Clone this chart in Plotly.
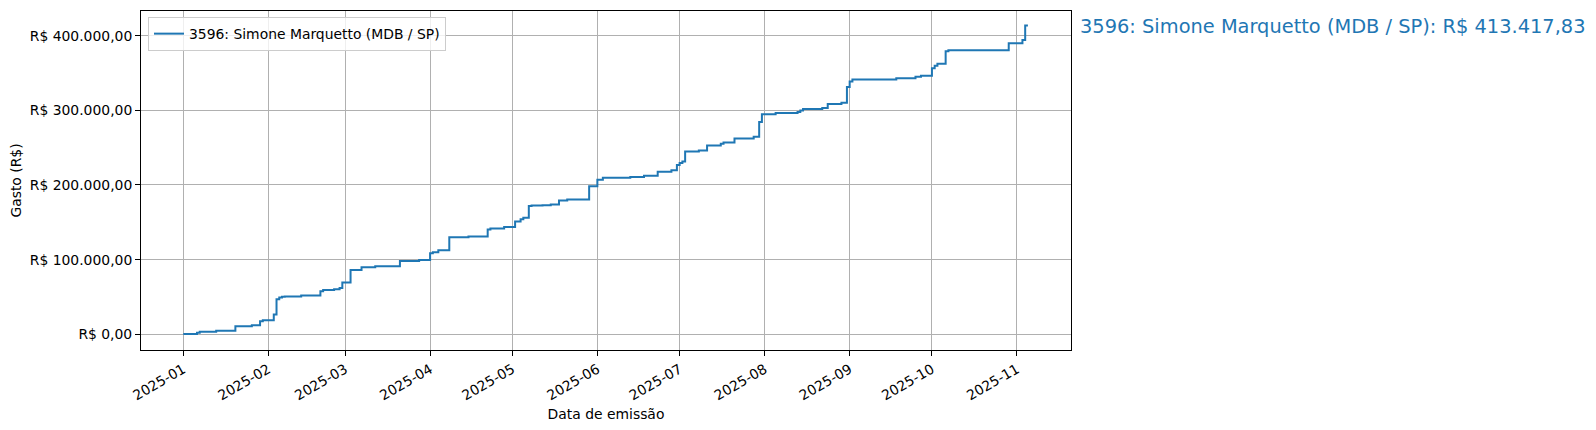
import plotly.graph_objects as go

# gasto acumulado por data de emissao
datas = [
    "2025-01-01", "2025-01-06", "2025-01-07", "2025-01-13", "2025-01-20", "2025-01-26", "2025-01-29", "2025-01-30",
    "2025-02-03", "2025-02-04", "2025-02-05", "2025-02-06", "2025-02-07", "2025-02-13", "2025-02-20", "2025-02-21",
    "2025-02-25", "2025-02-27", "2025-02-28",
    "2025-03-03", "2025-03-07", "2025-03-12", "2025-03-21", "2025-03-28",
    "2025-04-01", "2025-04-02", "2025-04-04", "2025-04-08", "2025-04-15", "2025-04-22", "2025-04-23", "2025-04-28",
    "2025-05-02", "2025-05-04", "2025-05-05", "2025-05-07", "2025-05-08", "2025-05-12", "2025-05-15", "2025-05-18",
    "2025-05-21", "2025-05-29",
    "2025-06-01", "2025-06-03", "2025-06-13", "2025-06-18", "2025-06-23", "2025-06-28", "2025-06-30",
    "2025-07-01", "2025-07-02", "2025-07-03", "2025-07-08", "2025-07-11", "2025-07-16", "2025-07-17", "2025-07-21",
    "2025-07-28", "2025-07-30", "2025-07-31",
    "2025-08-05", "2025-08-13", "2025-08-14", "2025-08-15", "2025-08-22", "2025-08-24", "2025-08-29", "2025-08-31",
    "2025-09-01", "2025-09-02", "2025-09-18", "2025-09-25", "2025-09-27",
    "2025-10-01", "2025-10-02", "2025-10-03", "2025-10-06", "2025-10-07", "2025-10-29",
    "2025-11-03", "2025-11-04", "2025-11-05",
]
gasto_acumulado = [
    450, 2200, 3600, 4900, 10800, 12100, 17500, 18800,
    26500, 47100, 49300, 50200, 50700, 52000, 57800, 59200, 60500, 61900, 69500,
    86100, 89700, 91000, 98200, 99600,
    108700, 110000, 112600, 130100, 131100, 140400, 141800, 143600,
    151100, 154200, 156000, 172000, 172400, 172900, 173800, 179100, 180400, 198200,
    207100, 209800, 210700, 212400, 217800, 219600, 226700,
    229300, 231600, 244900, 246200, 252900, 255100, 256900, 262200, 264500, 284400, 294700,
    296400, 297800, 299600, 301800, 303100, 308400, 310200, 331100,
    338700, 341300, 343100, 344900, 346200,
    356400, 359600, 362200, 379100, 380400, 389800,
    394200, 413417.83, 413417.83,
]
nome = "3596: Simone Marquetto (MDB / SP)"
total_txt = "R$ 413.417,83"

y_ticks = [0, 100000, 200000, 300000, 400000]
y_labels = ["R$ 0,00", "R$ 100.000,00", "R$ 200.000,00", "R$ 300.000,00", "R$ 400.000,00"]

azul = "#1f77b4"
fonte = "DejaVu Sans"
tam = 13.9

fig = go.Figure()

fig.add_trace(go.Scatter(
    x=datas,
    y=gasto_acumulado,
    mode="lines",
    line=dict(color=azul, width=2, shape="hv"),
    name=nome,
))

# total no lado direito
fig.add_annotation(
    x=1, y=0.955,
    xref="paper", yref="paper",
    xshift=7,
    xanchor="left", yanchor="middle",
    text=f"{nome}: {total_txt}",
    showarrow=False,
    font=dict(family=fonte, size=19.4, color=azul),
)

eixo = dict(
    showline=True, linecolor="black", linewidth=1, mirror=True,
    showgrid=True, gridcolor="#b0b0b0", gridwidth=1,
    ticks="outside", ticklen=5, tickcolor="black",
    tickfont=dict(family=fonte, size=tam, color="black"),
    zeroline=False,
)

fig.update_layout(
    width=1596, height=430,
    margin=dict(l=133, r=533, t=3, b=88),
    plot_bgcolor="white",
    paper_bgcolor="white",
    font=dict(family=fonte, size=tam, color="black"),
    showlegend=True,
    legend=dict(
        x=0.0075, y=0.982, xanchor="left", yanchor="top",
        bgcolor="rgba(255,255,255,0.8)",
        bordercolor="#cccccc", borderwidth=1,
        font=dict(family=fonte, size=tam),
    ),
    xaxis=dict(
        eixo,
        type="date",
        range=["2024-12-16 14:00", "2025-11-20 17:00"],
        tick0="2025-01-01", dtick="M1",
        tickformat="%Y-%m",
        tickangle=-30,
        title=dict(text="Data de emissão", font=dict(family=fonte, size=tam), standoff=6),
    ),
    yaxis=dict(
        eixo,
        range=[-21000, 433000],
        tickvals=y_ticks,
        ticktext=y_labels,
        title=dict(text="Gasto (R$)", font=dict(family=fonte, size=tam), standoff=8),
    ),
)

fig.write_html("out.html")
